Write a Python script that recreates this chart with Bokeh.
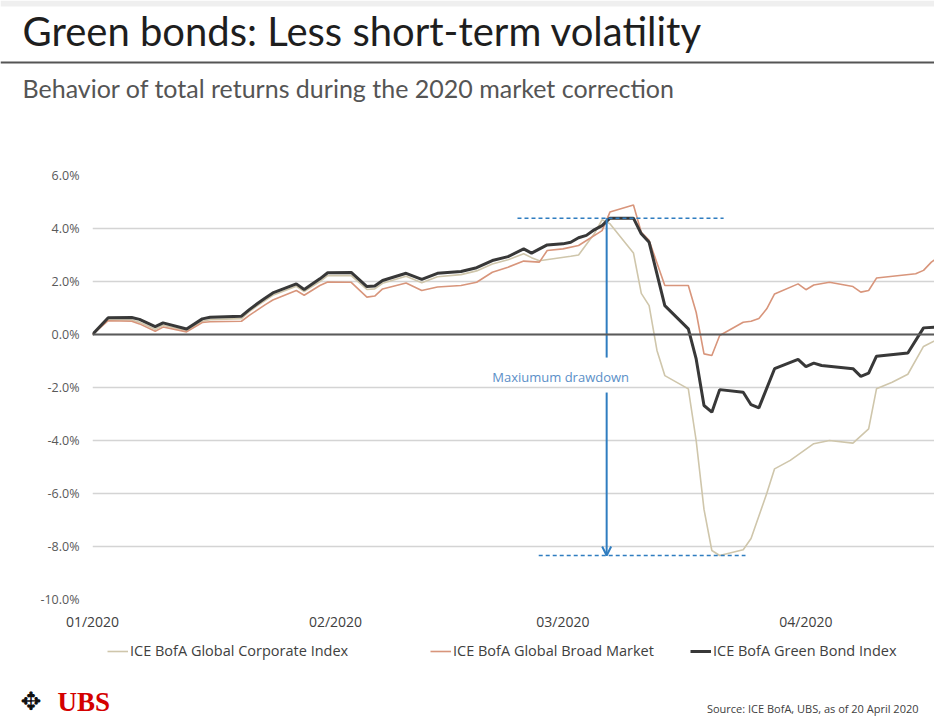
import pandas as pd
from bokeh.plotting import figure
from bokeh.models import (Range1d, FixedTicker, PrintfTickFormatter, DatetimeTickFormatter,
                          Span, Label, Legend, LegendItem, Arrow, OpenHead, BoxAnnotation)
from bokeh.embed import file_html
from bokeh.resources import INLINE

# ---------------- data ----------------
green_dates = ["2020-01-01", "2020-01-03", "2020-01-06", "2020-01-07", "2020-01-09", "2020-01-10",
               "2020-01-13", "2020-01-15", "2020-01-16", "2020-01-20", "2020-01-21", "2020-01-22",
               "2020-01-23", "2020-01-24", "2020-01-27", "2020-01-28", "2020-01-30", "2020-01-31",
               "2020-02-03", "2020-02-05", "2020-02-06", "2020-02-07", "2020-02-10", "2020-02-12",
               "2020-02-14", "2020-02-17", "2020-02-19", "2020-02-21", "2020-02-23", "2020-02-25",
               "2020-02-26", "2020-02-28", "2020-03-01", "2020-03-02", "2020-03-03", "2020-03-04",
               "2020-03-05", "2020-03-06", "2020-03-07", "2020-03-10", "2020-03-11", "2020-03-12",
               "2020-03-14", "2020-03-17", "2020-03-18", "2020-03-19", "2020-03-20", "2020-03-21",
               "2020-03-24", "2020-03-25", "2020-03-26", "2020-03-28", "2020-03-31", "2020-04-01",
               "2020-04-02", "2020-04-03", "2020-04-07", "2020-04-08", "2020-04-09", "2020-04-10",
               "2020-04-14", "2020-04-16", "2020-04-18"]
green_vals = [0.00, 0.63, 0.64, 0.57, 0.30, 0.44,
              0.21, 0.59, 0.65, 0.69, 0.94, 1.16,
              1.37, 1.57, 1.91, 1.70, 2.10, 2.33,
              2.34, 1.81, 1.83, 2.04, 2.31, 2.08,
              2.31, 2.38, 2.52, 2.79, 2.94, 3.23,
              3.07, 3.38, 3.42, 3.48, 3.65, 3.74,
              3.95, 4.11, 4.39, 4.39, 3.80, 3.48,
              1.09, 0.21, -0.92, -2.68, -2.93, -2.08,
              -2.18, -2.65, -2.77, -1.29, -0.94, -1.21,
              -1.08, -1.17, -1.29, -1.58, -1.46, -0.82,
              -0.70, 0.25, 0.28]

corp_dates = ["2020-01-01", "2020-01-03", "2020-01-06", "2020-01-07", "2020-01-09", "2020-01-10",
              "2020-01-13", "2020-01-15", "2020-01-16", "2020-01-20", "2020-01-21", "2020-01-22",
              "2020-01-23", "2020-01-24", "2020-01-27", "2020-01-28", "2020-01-30", "2020-01-31",
              "2020-02-03", "2020-02-05", "2020-02-06", "2020-02-07", "2020-02-10", "2020-02-12",
              "2020-02-14", "2020-02-17", "2020-02-19", "2020-02-21", "2020-02-23", "2020-02-25",
              "2020-02-26", "2020-02-27", "2020-03-02", "2020-03-03", "2020-03-05", "2020-03-06",
              "2020-03-07", "2020-03-10", "2020-03-11", "2020-03-12", "2020-03-13", "2020-03-14",
              "2020-03-17", "2020-03-18", "2020-03-19", "2020-03-20", "2020-03-21", "2020-03-24",
              "2020-03-25", "2020-03-27", "2020-03-28", "2020-03-30", "2020-04-02", "2020-04-04",
              "2020-04-07", "2020-04-09", "2020-04-10", "2020-04-12", "2020-04-14", "2020-04-16",
              "2020-04-18"]
corp_vals = [0.00, 0.55, 0.55, 0.46, 0.20, 0.35,
             0.15, 0.50, 0.56, 0.60, 0.86, 1.08,
             1.28, 1.48, 1.82, 1.62, 2.00, 2.22,
             2.22, 1.70, 1.72, 1.93, 2.20, 1.95,
             2.18, 2.26, 2.40, 2.66, 2.82, 3.05,
             2.90, 2.78, 2.95, 3.00, 3.80, 4.33,
             4.18, 3.08, 1.55, 1.09, -0.60, -1.55,
             -2.05, -4.00, -6.60, -8.15, -8.34, -8.12,
             -7.70, -6.00, -5.07, -4.75, -4.12, -4.00,
             -4.10, -3.56, -2.05, -1.80, -1.50, -0.45,
             -0.15]

broad_dates = ["2020-01-01", "2020-01-03", "2020-01-06", "2020-01-07", "2020-01-09", "2020-01-10",
               "2020-01-13", "2020-01-15", "2020-01-16", "2020-01-20", "2020-01-21", "2020-01-22",
               "2020-01-23", "2020-01-24", "2020-01-27", "2020-01-28", "2020-01-30", "2020-01-31",
               "2020-02-03", "2020-02-05", "2020-02-06", "2020-02-07", "2020-02-10", "2020-02-12",
               "2020-02-14", "2020-02-17", "2020-02-19", "2020-02-21", "2020-02-23", "2020-02-25",
               "2020-02-27", "2020-02-28", "2020-03-01", "2020-03-03", "2020-03-06", "2020-03-07",
               "2020-03-10", "2020-03-11", "2020-03-12", "2020-03-14", "2020-03-17", "2020-03-18",
               "2020-03-19", "2020-03-20", "2020-03-21", "2020-03-24", "2020-03-25", "2020-03-26",
               "2020-03-27", "2020-03-28", "2020-03-31", "2020-04-01", "2020-04-02", "2020-04-04",
               "2020-04-07", "2020-04-08", "2020-04-09", "2020-04-10", "2020-04-15", "2020-04-16",
               "2020-04-17", "2020-04-18"]
broad_vals = [0.00, 0.52, 0.50, 0.40, 0.12, 0.28,
              0.10, 0.45, 0.48, 0.50, 0.72, 0.92,
              1.12, 1.30, 1.66, 1.48, 1.85, 1.98,
              1.97, 1.41, 1.45, 1.72, 1.94, 1.66,
              1.79, 1.85, 1.97, 2.35, 2.54, 2.77,
              2.73, 3.17, 3.23, 3.36, 3.92, 4.62,
              4.89, 3.86, 3.55, 1.85, 1.85, 0.84,
              -0.73, -0.79, -0.04, 0.46, 0.50, 0.60,
              0.97, 1.53, 1.91, 1.69, 1.87, 1.97,
              1.81, 1.60, 1.66, 2.13, 2.29, 2.42,
              2.73, 2.95]

series_names = ["ICE BofA Global Corporate Index", "ICE BofA Global Broad Market", "ICE BofA Green Bond Index"]
series_colors = ["#cfc6ab", "#d8957b", "#383838"]
series_widths = [1.6, 1.6, 3]
month_ticks = ["2020-01-01", "2020-02-01", "2020-03-01", "2020-04-01"]
y_ticks = [-10, -8, -6, -4, -2, 0, 2, 4, 6]

# annotation ("Maxiumum drawdown")
ann_text = "Maxiumum drawdown"
ann_top_x = ["2020-02-24 05:00", "2020-03-21 12:00"]
ann_bot_x = ["2020-02-26 22:00", "2020-03-24 07:00"]
ann_arrow_x = "2020-03-06 14:00"
ann_gap = [-0.87, -2.19]
ann_text_y = -1.62

title_text = "Green bonds: Less short-term volatility"
subtitle_text = "Behavior of total returns during the 2020 market correction"
source_text = "Source: ICE BofA, UBS, as of 20 April 2020"

# ---------------- helpers ----------------
def dt(s):
    return pd.Timestamp(s).to_pydatetime()

def ms(s):
    return (pd.Timestamp(s) - pd.Timestamp("1970-01-01")).total_seconds() * 1000.0

W = 934
H_HEAD, H_MAIN, H_FOOT = 118, 522, 78

def blank(h, y0):
    f = figure(width=W, height=h, x_range=Range1d(0, W), y_range=Range1d(y0 + h, y0),
               output_backend="svg", toolbar_location=None, title=None,
               x_axis_location=None, y_axis_location=None,
               min_border=0, min_border_left=0, min_border_right=0, min_border_top=0, min_border_bottom=0)
    f.outline_line_color = None
    f.grid.visible = False
    f.background_fill_color = "white"
    f.border_fill_color = "white"
    return f

# ---------------- header ----------------
head = blank(H_HEAD, 0)
head.add_layout(BoxAnnotation(top=0, bottom=6, fill_color="#efefef", fill_alpha=1, line_alpha=0))
head.add_layout(Label(x=22, y=30, text=title_text, text_font="Lato", text_font_size="40px",
                      text_color="#1e1e1e", text_baseline="middle"))
head.add_layout(Span(location=62, dimension="width", line_color="#555555", line_width=2))
head.add_layout(Label(x=22, y=87, text=subtitle_text, text_font="Lato", text_font_size="25px",
                      text_color="#555555", text_baseline="middle"))

# ---------------- main chart ----------------
x_start = pd.Timestamp("2020-01-01")
x_end = x_start + pd.Timedelta(days=107.4)

p = figure(width=W, height=H_MAIN, x_axis_type="datetime", output_backend="svg", toolbar_location=None,
           title=None, x_range=Range1d(x_start.to_pydatetime(), x_end.to_pydatetime()),
           y_range=Range1d(-10, 6),
           min_border_left=92, min_border_right=0, min_border_top=57, min_border_bottom=41)
p.outline_line_color = None
p.background_fill_color = "white"
p.border_fill_color = "white"

p.yaxis.ticker = FixedTicker(ticks=y_ticks)
p.yaxis.formatter = PrintfTickFormatter(format="%.1f%%")
p.yaxis.axis_line_color = None
p.yaxis.major_tick_line_color = None
p.yaxis.minor_tick_line_color = None
p.yaxis.major_label_standoff = 7
p.yaxis.major_label_text_font = "Open Sans"
p.yaxis.major_label_text_font_size = "12.5px"
p.yaxis.major_label_text_color = "#595959"

p.xaxis.ticker = FixedTicker(ticks=[ms(m) for m in month_ticks])
fmt = "%m/%Y"
p.xaxis.formatter = DatetimeTickFormatter(days=fmt, months=fmt, years=fmt, hours=fmt, minutes=fmt,
                                          seconds=fmt, milliseconds=fmt, minsec=fmt, hourmin=fmt)
p.xaxis.axis_line_color = None
p.xaxis.major_tick_line_color = None
p.xaxis.minor_tick_line_color = None
p.xaxis.major_label_standoff = 6
p.xaxis.major_label_text_font = "Open Sans"
p.xaxis.major_label_text_font_size = "14px"
p.xaxis.major_label_text_color = "#404040"

p.xgrid.grid_line_color = None
p.ygrid.ticker = FixedTicker(ticks=y_ticks)
p.ygrid.grid_line_color = "#d4d4d4"
p.ygrid.grid_line_width = 1.5

p.add_layout(Span(location=0, dimension="width", line_color="#5a5a5a", line_width=2))

p.line([dt(d) for d in corp_dates], corp_vals, line_color=series_colors[0], line_width=series_widths[0])
p.line([dt(d) for d in broad_dates], broad_vals, line_color=series_colors[1], line_width=series_widths[1])
p.line([dt(d) for d in green_dates], green_vals, line_color=series_colors[2], line_width=series_widths[2])

blue = "#2f7dc0"
top_lvl = max(green_vals)
bot_lvl = min(corp_vals)
p.line([dt(x) for x in ann_top_x], [top_lvl, top_lvl], line_color=blue, line_width=1.5, line_dash="4 3")
p.line([dt(x) for x in ann_bot_x], [bot_lvl, bot_lvl], line_color=blue, line_width=1.5, line_dash="4 3")
p.line([dt(ann_arrow_x), dt(ann_arrow_x)], [top_lvl, ann_gap[0]], line_color=blue, line_width=2)
p.add_layout(Arrow(x_start=ms(ann_arrow_x), y_start=ann_gap[1], x_end=ms(ann_arrow_x), y_end=bot_lvl,
                   line_color=blue, line_width=2,
                   end=OpenHead(size=9, line_color=blue, line_width=2)))
p.add_layout(Label(x=ms(ann_arrow_x), y=ann_text_y, x_offset=-46, text=ann_text, text_align="center",
                   text_baseline="middle", text_font="Open Sans", text_font_size="13px",
                   text_color="#5b8fc7"))

# ---------------- footer (legend, logo, source) ----------------
foot = blank(H_FOOT, H_HEAD + H_MAIN)
leg_x = [107, 430, 690]
for name, col, lw, lx in zip(series_names, series_colors, series_widths, leg_x):
    # legend proxy: same style as the series, data kept outside the visible footer area
    r = foot.line(x=[-100, -90], y=[1000, 1000], line_color=col, line_width=lw)
    foot.add_layout(Legend(items=[LegendItem(label=name, renderers=[r])], location=(lx, 58),
                           orientation="horizontal", padding=0, margin=0, spacing=0,
                           glyph_width=21, glyph_height=16, label_standoff=2, label_height=16,
                           label_text_font="Open Sans", label_text_font_size="14.5px",
                           label_text_color="#404040", border_line_color=None,
                           background_fill_alpha=0))
foot.add_layout(Label(x=918, y=708, text=source_text, text_align="right", text_baseline="middle",
                      text_font="Open Sans", text_font_size="11px", text_color="#404040"))
foot.add_layout(Label(x=57, y=701, text="UBS", text_font="Liberation Serif", text_font_size="27px",
                      text_font_style="bold", text_color="#d40000", text_baseline="middle"))
foot.add_layout(Label(x=20, y=701, text="\u2725", text_font="DejaVu Sans", text_font_size="25px",
                      text_color="#111111", text_baseline="middle"))

open("out.html", "w").write(file_html([head, p, foot], INLINE))
